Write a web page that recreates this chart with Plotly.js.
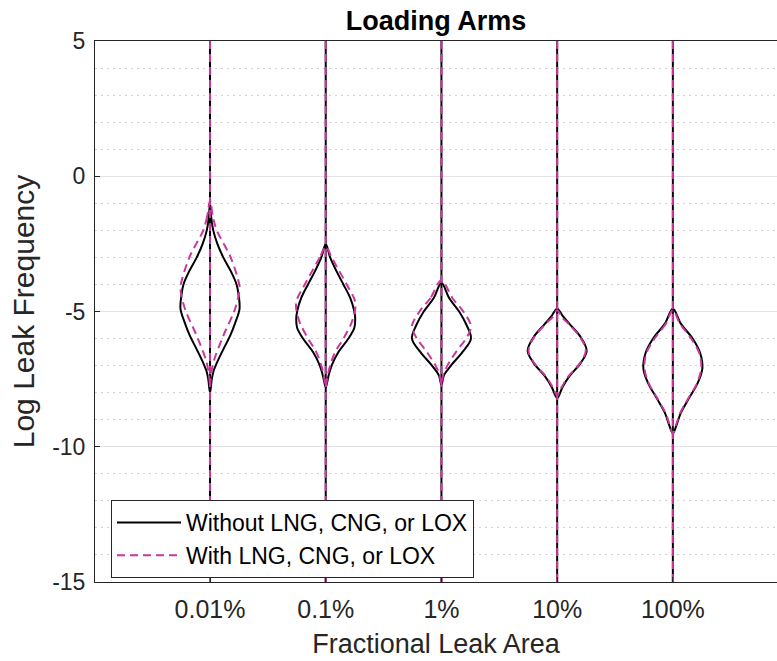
<!DOCTYPE html>
<html>
<head>
<meta charset="utf-8">
<script src="https://cdn.plot.ly/plotly-3.0.1.min.js"></script>
<style>html,body{margin:0;padding:0;background:#fff;}#chart{width:777px;height:661px;}</style>
</head>
<body>
<div id="chart"></div>
<script>
// ---- data ----
const categories = ['0.01%', '0.1%', '1%', '10%', '100%'];
const seriesNames = ['Without LNG, CNG, or LOX', 'With LNG, CNG, or LOX'];
const yLimits = [-15, 5];

// Without LNG, CNG, or LOX: log-frequency levels and normalized density (peak = 1)
const withoutY = [
  [-1.0, -1.5, -2.0, -2.5, -3.0, -3.5, -4.0, -4.4, -4.9, -5.4, -5.9, -6.4, -6.9, -7.2, -7.5, -8.0],
  [-2.5, -3.0, -3.5, -4.0, -4.5, -5.0, -5.3, -5.6, -6.0, -6.5, -7.0, -7.4, -7.8],
  [-3.95, -4.5, -5.0, -5.5, -6.0, -6.5, -7.0, -7.35, -7.7],
  [-4.9, -5.15, -5.45, -5.95, -6.45, -6.9, -7.4, -7.8, -8.2],
  [-4.9, -5.45, -6.0, -6.55, -7.1, -7.65, -8.2, -8.75, -9.15, -9.5]
];
const withoutD = [
  [0, 0.04, 0.11, 0.25, 0.45, 0.70, 0.90, 0.97, 1.00, 0.86, 0.68, 0.45, 0.23, 0.12, 0.06, 0],
  [0, 0.15, 0.36, 0.60, 0.83, 0.97, 1.00, 0.97, 0.77, 0.43, 0.20, 0.09, 0],
  [0, 0.26, 0.60, 0.85, 1.00, 0.71, 0.32, 0.09, 0],
  [0, 0.18, 0.41, 0.80, 1.00, 0.80, 0.41, 0.18, 0],
  [0, 0.27, 0.67, 0.93, 1.00, 0.84, 0.55, 0.27, 0.14, 0]
];

// With LNG, CNG, or LOX
const withY = [
  [-0.9, -1.5, -2.0, -3.0, -4.0, -4.2, -4.9, -5.9, -6.9, -7.5, -7.8],
  [-2.6, -3.0, -4.0, -4.6, -4.9, -5.4, -6.0, -6.5, -7.0, -7.4, -7.8],
  [-3.85, -4.5, -5.0, -5.55, -6.0, -6.5, -7.0, -7.35, -7.7],
  [-4.95, -5.2, -5.45, -5.95, -6.45, -6.9, -7.4, -7.8, -8.1],
  [-4.95, -5.45, -6.0, -6.55, -7.1, -7.65, -8.2, -8.75, -9.15, -9.5]
];
const withD = [
  [0, 0.10, 0.23, 0.70, 0.99, 1.00, 0.85, 0.45, 0.11, 0.02, 0],
  [0, 0.20, 0.71, 0.99, 1.00, 0.88, 0.60, 0.32, 0.15, 0.06, 0],
  [0, 0.37, 0.74, 1.00, 0.83, 0.49, 0.20, 0.06, 0],
  [0, 0.15, 0.38, 0.78, 0.97, 0.78, 0.38, 0.15, 0],
  [0, 0.24, 0.62, 0.90, 0.96, 0.82, 0.53, 0.25, 0.12, 0]
];

// ---- styling ----
const halfWidth = 0.255;           // x-units at density 1
const colors = ['#000000', '#c8379c'];
const dashes = ['solid', '8px,5px'];
const FONT = '"Liberation Sans", Arial, Helvetica, sans-serif';
const TXT = '#262626';

function outline(ys, ds, c) {
  const x = [], y = [];
  for (let i = 0; i < ys.length; i++) { x.push(c - ds[i] * halfWidth); y.push(ys[i]); }
  for (let i = ys.length - 2; i >= 0; i--) { x.push(c + ds[i] * halfWidth); y.push(ys[i]); }
  return {x, y};
}

const traces = [];
const sets = [[withoutY, withoutD], [withY, withD]];
sets.forEach((s, k) => {
  const tx = [], ty = [];
  categories.forEach((cat, i) => { tx.push(i + 1, i + 1, null); ty.push(yLimits[1], yLimits[0], null); });
  traces.push({type: 'scatter', mode: 'lines', x: tx, y: ty, hoverinfo: 'skip',
    showlegend: false, legendgroup: 'g' + k,
    line: {color: colors[k], width: 2, dash: dashes[k]}});
  categories.forEach((cat, i) => {
    const o = outline(s[0][i], s[1][i], i + 1);
    traces.push({type: 'scatter', mode: 'lines', x: o.x, y: o.y, name: seriesNames[k],
      legendgroup: 'g' + k, showlegend: i === 0,
      line: {color: colors[k], width: 2, dash: dashes[k], shape: 'spline', smoothing: 1}});
  });
});

const layout = {
  width: 777, height: 661,
  margin: {l: 95, r: 0, t: 41, b: 79},
  paper_bgcolor: '#ffffff', plot_bgcolor: '#ffffff',
  font: {family: FONT, color: TXT},
  title: {text: '<b>Loading Arms</b>', font: {family: FONT, size: 27, color: '#000'},
    x: 0.5, xref: 'paper', xanchor: 'center', y: 1 - 21 / 661, yref: 'container', yanchor: 'middle'},
  xaxis: {range: [0.006, 5.9], tickvals: [1, 2, 3, 4, 5], ticktext: categories,
    showgrid: true, gridcolor: '#e3e3e3', gridwidth: 1, zeroline: false,
    showline: true, linecolor: TXT, linewidth: 1, mirror: true,
    ticks: 'inside', ticklen: 5, tickcolor: TXT,
    tickfont: {family: FONT, size: 25, color: TXT}, ticklabelstandoff: 5,
    title: {text: 'Fractional Leak Area', font: {family: FONT, size: 27, color: TXT}, standoff: 12}},
  yaxis: {range: yLimits, tickvals: [-15, -10, -5, 0, 5], ticktext: ['-15', '-10', '-5', '0', '5'],
    showgrid: true, gridcolor: '#e3e3e3', gridwidth: 1, zeroline: false,
    showline: true, linecolor: TXT, linewidth: 1, mirror: false,
    ticks: 'inside', ticklen: 5, tickcolor: TXT,
    tickfont: {family: FONT, size: 23, color: TXT}, ticklabelstandoff: 4,
    minor: {dtick: 1, showgrid: true, gridcolor: '#d2d2d2', griddash: '2px,4px', gridwidth: 1, ticks: ''},
    title: {text: 'Log Leak Frequency', font: {family: FONT, size: 30, color: TXT}, standoff: 8}},
  legend: {x: (111 - 95) / 682, y: (582 - 500) / 541, xanchor: 'left', yanchor: 'top',
    bgcolor: '#ffffff', bordercolor: TXT, borderwidth: 1,
    font: {family: FONT, size: 23, color: '#000'}, itemwidth: 64, tracegroupgap: 0},
  showlegend: true
};

Plotly.newPlot('chart', traces, layout, {displayModeBar: false, staticPlot: true});
</script>
</body>
</html>
